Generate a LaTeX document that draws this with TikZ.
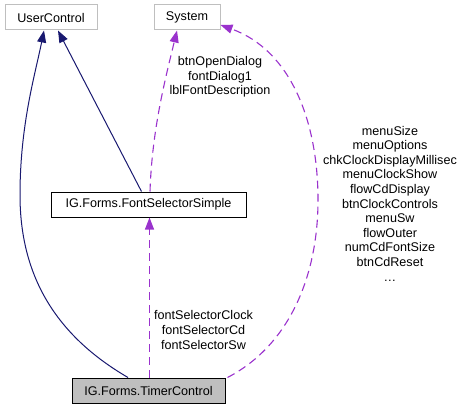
\documentclass[tikz,border=0pt]{standalone}
\usepackage{fontspec}
\setmainfont{Liberation Sans}
\usetikzlibrary{arrows.meta}
\definecolor{edgenavy}{RGB}{25,25,112}
\definecolor{edgeorchid}{RGB}{154,50,205}
\definecolor{boxgray}{RGB}{191,191,191}

\begin{document}
\begin{tikzpicture}[x=1pt,y=-1pt,
  every node/.style={font=\fontsize{12.6}{14.6}\selectfont},
  cls/.style={draw=black,fill=white,line width=1pt,inner sep=0pt,minimum height=25pt},
  grayed/.style={cls,draw=boxgray},
  focus/.style={cls,fill=boxgray},
  inherit/.style={edgenavy,line width=1pt,-{Triangle[length=12pt,width=9pt]}},
  usage/.style={edgeorchid,line width=1.1pt,dash pattern=on 8pt off 5pt,-{Triangle[length=12pt,width=9pt]}},
  lbl/.style={align=center,inner sep=0pt}
]
\useasboundingbox (0,0) rectangle (465,409);
\node[grayed,minimum width=92pt] (uc) at (51,17.5) {UserControl};
\node[grayed,minimum width=66pt] (sys) at (187,17.5) {System};
\node[cls,minimum width=195pt] (fs) at (148.5,204.5) {IG.Forms.FontSelectorSimple};
\node[focus,minimum width=153pt] (tc) at (148.5,390.5) {IG.Forms.TimerControl};

\draw[inherit] ([xshift=-20.5pt]tc.north) .. controls (55,335) and (20,275) .. (20,195)
  .. controls (20,125) and (35,75) .. ([xshift=-7pt]uc.south);
\draw[inherit] ([xshift=-7pt]fs.north) -- ([xshift=7pt]uc.south);
\draw[usage] ([xshift=1.5pt]fs.north) .. controls (152,130) and (165,80) .. ([xshift=-10pt]sys.south);
\draw[usage] ([xshift=1pt]tc.north) -- ([xshift=1pt]fs.south);
\draw[usage] ([xshift=2pt]tc.north east) .. controls (290,345) and (318,275) .. (318,200)
  .. controls (318,120) and (290,50) .. ([yshift=-7.5pt]sys.east);

\node[lbl] (fslbl) at (220,77) {btnOpenDialog\\fontDialog1\\lblFontDescription};
\node[lbl] (tclbl) at (203.5,330) {fontSelectorClock\\fontSelectorCd\\fontSelectorSw};
\node[lbl] (syslbl) at (390,203.5) {menuSize\\menuOptions\\chkClockDisplayMillisec\\menuClockShow\\flowCdDisplay\\btnClockControls\\menuSw\\flowOuter\\numCdFontSize\\btnCdReset\\\ldots};
\end{tikzpicture}
\end{document}
